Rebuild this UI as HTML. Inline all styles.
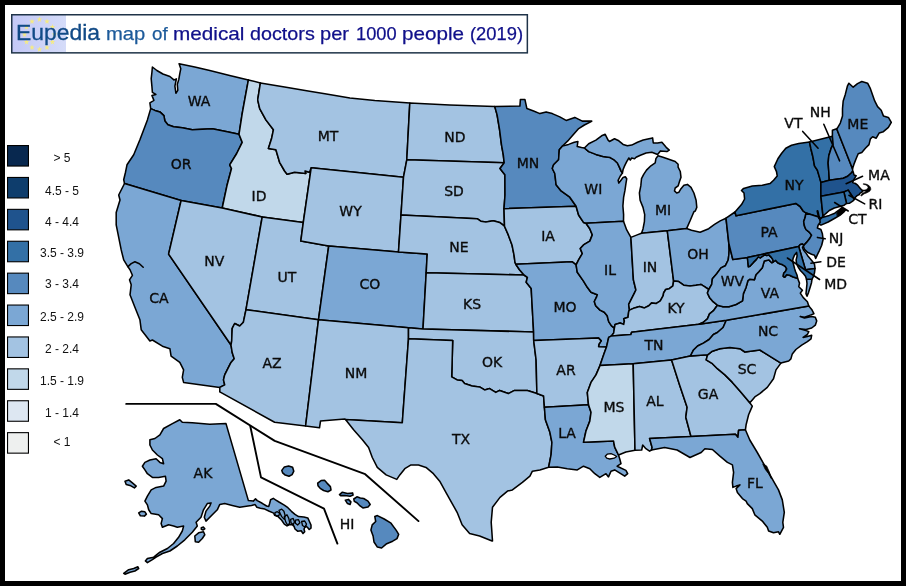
<!DOCTYPE html>
<html lang="en"><head><meta charset="utf-8"><title>Eupedia map of medical doctors per 1000 people (2019)</title>
<style>
html,body{margin:0;padding:0;background:#000}
#wrap{position:relative;width:906px;height:586px;background:#000;overflow:hidden}
#paper{position:absolute;left:5px;top:5px;width:896px;height:576px;background:#fff}
#map{position:absolute;left:0;top:0}
.st path{stroke:#000;stroke-width:1.55;stroke-linejoin:round;stroke-linecap:round}
.lb{font-family:"DejaVu Sans","Liberation Sans",sans-serif;font-size:14px;fill:#0b0b0b;stroke:#0b0b0b;stroke-width:.35px;text-anchor:middle}
#title{position:absolute;left:12px;top:15px;width:515px;height:38px}
.tw{position:absolute;white-space:nowrap;font-family:"Liberation Sans",sans-serif;line-height:1;transform-origin:0 0}
.lt{position:absolute;left:32px;width:60px;text-align:center;font-family:"Liberation Sans",sans-serif;font-size:12px;color:#111;line-height:14px}
</style></head><body><div id="wrap"><div id="paper"></div>

<svg id="map" width="906" height="586" viewBox="0 0 906 586">
<defs><linearGradient id="fg" x1="0" x2="1" y1="0" y2="0"><stop offset="0" stop-color="#c3c8f6"/><stop offset="1" stop-color="#d5dcf9"/></linearGradient></defs>
<rect x="12" y="15" width="54" height="37.5" fill="url(#fg)"/>
<polygon fill="#f4ea86" points="39.50,16.50 40.21,18.53 42.35,18.57 40.64,19.87 41.26,21.93 39.50,20.70 37.74,21.93 38.36,19.87 36.65,18.57 38.79,18.53"/>
<polygon fill="#f4ea86" points="47.00,18.51 47.71,20.54 49.85,20.58 48.14,21.88 48.76,23.94 47.00,22.71 45.24,23.94 45.86,21.88 44.15,20.58 46.29,20.54"/>
<polygon fill="#f4ea86" points="52.49,24.00 53.20,26.03 55.34,26.07 53.63,27.37 54.25,29.43 52.49,28.20 50.73,29.43 51.35,27.37 49.64,26.07 51.79,26.03"/>
<polygon fill="#f4ea86" points="54.50,31.50 55.21,33.53 57.35,33.57 55.64,34.87 56.26,36.93 54.50,35.70 52.74,36.93 53.36,34.87 51.65,33.57 53.79,33.53"/>
<polygon fill="#f4ea86" points="52.49,39.00 53.20,41.03 55.34,41.07 53.63,42.37 54.25,44.43 52.49,43.20 50.73,44.43 51.35,42.37 49.64,41.07 51.79,41.03"/>
<polygon fill="#f4ea86" points="47.00,44.49 47.71,46.52 49.85,46.56 48.14,47.86 48.76,49.92 47.00,48.69 45.24,49.92 45.86,47.86 44.15,46.56 46.29,46.52"/>
<polygon fill="#f4ea86" points="39.50,46.50 40.21,48.53 42.35,48.57 40.64,49.87 41.26,51.93 39.50,50.70 37.74,51.93 38.36,49.87 36.65,48.57 38.79,48.53"/>
<polygon fill="#f4ea86" points="32.00,44.49 32.71,46.52 34.85,46.56 33.14,47.86 33.76,49.92 32.00,48.69 30.24,49.92 30.86,47.86 29.15,46.56 31.29,46.52"/>
<polygon fill="#f4ea86" points="26.51,39.00 27.21,41.03 29.36,41.07 27.65,42.37 28.27,44.43 26.51,43.20 24.75,44.43 25.37,42.37 23.66,41.07 25.80,41.03"/>
<polygon fill="#f4ea86" points="24.50,31.50 25.21,33.53 27.35,33.57 25.64,34.87 26.26,36.93 24.50,35.70 22.74,36.93 23.36,34.87 21.65,33.57 23.79,33.53"/>
<polygon fill="#f4ea86" points="26.51,24.00 27.21,26.03 29.36,26.07 27.65,27.37 28.27,29.43 26.51,28.20 24.75,29.43 25.37,27.37 23.66,26.07 25.80,26.03"/>
<polygon fill="#f4ea86" points="32.00,18.51 32.71,20.54 34.85,20.58 33.14,21.88 33.76,23.94 32.00,22.71 30.24,23.94 30.86,21.88 29.15,20.58 31.29,20.54"/>
<rect x="11.75" y="14.75" width="515.6" height="38.1" fill="none" stroke="#1f3348" stroke-width="1.5"/>
<g class="st">
<path fill="#7ba7d4" d="M179.1 63.7 L194.8 67.0 L209.8 70.5 L229.7 75.5 L248.4 79.9 L245.4 96.2 L242.2 113.6 L239.0 134.3 L227.2 131.8 L212.3 128.8 L202.3 129.3 L192.3 129.8 L182.3 127.8 L173.6 126.8 L167.9 124.8 L164.9 121.1 L163.9 115.6 L159.9 111.9 L154.9 110.4 L150.7 108.6 L149.9 102.9 L153.9 100.4 L151.9 95.4 L155.9 94.4 L152.4 92.4 L151.9 86.2 L151.2 78.7 L151.9 72.5 L152.4 67.0 L156.9 70.5 L162.9 74.0 L169.9 76.5 L173.9 79.9 L176.4 78.9 L174.9 86.2 L175.9 93.2 L177.8 90.4 L177.3 84.4 L178.8 79.4 L179.8 73.7 L180.8 68.7 Z"/>
<path fill="#5689be" d="M150.7 108.6 L154.9 110.4 L159.9 111.9 L163.9 115.6 L164.9 121.1 L167.9 124.8 L173.6 126.8 L182.3 127.8 L192.3 129.8 L202.3 129.3 L212.3 128.8 L227.2 131.8 L239.0 134.3 L242.2 142.3 L236.7 153.5 L229.7 164.8 L231.5 168.5 L227.2 184.7 L222.2 208.0 L181.1 200.5 L124.5 183.5 L123.7 179.7 L125.5 172.2 L127.0 164.8 L133.7 154.8 L139.9 139.8 L147.4 119.9 Z"/>
<path fill="#7ba7d4" d="M124.5 183.5 L181.1 200.5 L168.6 254.1 L231.0 345.0 L232.2 352.5 L234.2 358.7 L231.0 362.4 L227.2 369.9 L224.7 374.9 L223.5 379.9 L224.7 384.9 L219.8 387.4 L183.6 382.4 L182.3 377.4 L183.6 369.9 L179.8 362.4 L171.1 356.2 L169.9 348.7 L162.4 346.2 L152.4 340.0 L149.9 340.9 L141.2 329.7 L139.9 319.7 L134.9 307.2 L130.0 294.8 L131.2 284.8 L129.5 279.8 L132.4 275.3 L130.0 269.8 L127.5 266.1 L123.7 259.9 L121.2 249.9 L118.7 237.4 L116.2 224.9 L116.2 212.5 L120.0 200.0 L118.7 195.0 Z"/>
<path fill="#c1d8ea" d="M248.4 79.9 L260.4 82.9 L257.7 99.9 L259.7 108.6 L265.9 119.9 L273.4 129.8 L271.6 138.6 L268.4 148.5 L275.9 149.8 L279.6 162.3 L284.6 171.0 L287.1 174.2 L294.6 172.2 L305.8 173.5 L305.0 171.0 L309.5 172.2 L311.2 167.7 L303.3 222.4 L262.2 217.0 L222.2 208.0 L227.2 184.7 L231.5 168.5 L229.7 164.8 L236.7 153.5 L242.2 142.3 L239.0 134.3 L242.2 113.6 L245.4 96.2 Z"/>
<path fill="#a3c3e2" d="M181.1 200.5 L222.2 208.0 L262.2 217.0 L246.0 309.7 L243.4 322.2 L239.7 326.0 L234.7 323.5 L232.2 328.4 L231.7 340.9 L231.0 345.0 L168.6 254.1 Z"/>
<path fill="#a3c3e2" d="M262.2 217.0 L303.3 222.4 L300.8 241.1 L328.7 246.1 L318.5 319.7 L246.0 309.7 Z"/>
<path fill="#a3c3e2" d="M246.0 309.7 L318.5 319.7 L305.6 426.0 L274.6 422.3 L219.8 391.9 L219.8 387.4 L224.7 384.9 L223.5 379.9 L224.7 374.9 L227.2 369.9 L231.0 362.4 L234.2 358.7 L232.2 352.5 L231.0 345.0 L231.7 340.9 L232.2 328.4 L234.7 323.5 L239.7 326.0 L243.4 322.2 Z"/>
<path fill="#a3c3e2" d="M260.4 82.9 L284.6 86.9 L309.6 91.2 L324.9 93.7 L349.9 97.9 L374.8 100.6 L409.8 103.1 L406.8 159.8 L403.5 177.2 L311.2 167.7 L309.5 172.2 L305.0 171.0 L305.8 173.5 L294.6 172.2 L287.1 174.2 L284.6 171.0 L279.6 162.3 L275.9 149.8 L268.4 148.5 L271.6 138.6 L273.4 129.8 L265.9 119.9 L259.7 108.6 L257.7 99.9 Z"/>
<path fill="#a3c3e2" d="M311.2 167.7 L403.5 177.2 L401.0 215.0 L398.5 251.9 L328.7 246.1 L300.8 241.1 L303.3 222.4 Z"/>
<path fill="#7ba7d4" d="M328.7 246.1 L398.5 251.9 L427.2 254.1 L426.2 272.8 L423.0 329.0 L408.5 327.7 L318.5 319.7 Z"/>
<path fill="#a3c3e2" d="M318.5 319.7 L408.5 327.7 L408.5 338.7 L402.3 422.8 L345.5 419.5 L344.9 419.1 L320.5 421.1 L319.5 427.8 L305.6 426.0 Z"/>
<path fill="#a3c3e2" d="M409.8 103.1 L449.7 104.9 L494.8 106.6 L497.1 114.9 L499.6 129.8 L501.5 144.8 L503.3 154.8 L504.2 162.8 L406.8 159.8 Z"/>
<path fill="#a3c3e2" d="M406.8 159.8 L504.2 162.8 L500.0 168.5 L502.9 172.2 L504.9 174.7 L505.0 195.0 L504.0 208.7 L504.5 226.2 L499.6 222.4 L493.3 220.7 L485.8 221.9 L480.8 221.2 L477.1 218.7 L401.0 215.0 L403.5 177.2 Z"/>
<path fill="#a3c3e2" d="M401.0 215.0 L477.1 218.7 L480.8 221.2 L485.8 221.9 L493.3 220.7 L499.6 222.4 L504.5 226.2 L508.3 234.9 L512.0 244.9 L514.0 254.9 L515.0 262.3 L515.8 264.3 L519.5 269.8 L524.0 275.0 L426.2 272.8 L427.2 254.1 L398.5 251.9 Z"/>
<path fill="#a3c3e2" d="M426.2 272.8 L524.0 275.0 L527.4 277.3 L526.2 282.3 L531.2 288.5 L533.6 332.0 L423.0 329.0 Z"/>
<path fill="#a3c3e2" d="M408.5 327.7 L423.0 329.0 L533.6 332.0 L533.7 340.5 L536.1 359.9 L536.9 393.6 L527.4 390.4 L514.5 390.4 L508.3 393.6 L499.6 390.4 L495.8 392.4 L489.6 388.6 L484.6 389.9 L479.6 386.9 L472.1 386.1 L464.6 383.6 L462.1 380.4 L457.1 379.9 L451.7 376.9 L452.7 340.5 L408.5 338.7 Z"/>
<path fill="#a3c3e2" d="M408.5 338.7 L452.7 340.5 L451.7 376.9 L457.1 379.9 L462.1 380.4 L464.6 383.6 L472.1 386.1 L479.6 386.9 L484.6 389.9 L489.6 388.6 L495.8 392.4 L499.6 390.4 L508.3 393.6 L514.5 390.4 L527.4 390.4 L536.9 393.6 L543.6 396.1 L544.4 407.3 L545.4 419.8 L549.9 432.3 L551.9 442.3 L551.1 454.7 L548.6 467.3 L539.9 469.9 L532.4 471.2 L529.9 476.2 L522.4 482.4 L512.4 489.9 L507.5 491.1 L500.0 497.4 L492.5 507.3 L491.2 522.3 L492.5 541.0 L492.1 541.0 L479.6 536.0 L469.6 533.5 L462.1 524.8 L457.1 512.3 L452.2 503.6 L445.9 492.4 L439.7 481.2 L433.4 473.7 L426.0 467.4 L418.5 464.9 L411.0 464.9 L404.8 468.7 L399.8 474.9 L396.8 479.4 L386.1 474.9 L377.3 467.4 L372.3 457.5 L368.6 447.5 L362.4 439.8 L353.6 429.8 L345.5 419.5 L402.3 422.8 Z"/>
<path fill="#5689be" d="M494.8 106.6 L519.9 106.1 L520.4 99.4 L524.9 99.4 L526.9 108.6 L533.6 111.1 L539.9 113.6 L546.1 111.9 L552.3 113.6 L559.8 116.9 L566.1 120.4 L574.8 117.4 L582.3 121.1 L591.7 121.1 L591.6 121.4 L584.4 125.0 L578.7 128.6 L574.3 133.6 L568.6 140.1 L562.5 146.0 L559.3 149.8 L558.6 159.8 L553.6 164.8 L552.3 168.5 L554.8 173.5 L556.1 184.7 L561.1 190.9 L569.8 197.2 L576.1 206.2 L504.0 208.7 L505.0 195.0 L504.9 174.7 L502.9 172.2 L500.0 168.5 L504.2 162.8 L503.3 154.8 L501.5 144.8 L499.6 129.8 L497.1 114.9 Z"/>
<path fill="#a3c3e2" d="M504.0 208.7 L576.1 206.2 L578.6 215.0 L583.5 222.4 L586.0 223.2 L589.8 228.7 L592.3 234.9 L589.8 241.1 L583.5 244.9 L580.3 248.6 L582.3 253.6 L578.6 259.9 L576.1 264.8 L572.3 261.8 L515.8 264.3 L515.0 262.3 L514.0 254.9 L512.0 244.9 L508.3 234.9 L504.5 226.2 Z"/>
<path fill="#7ba7d4" d="M515.8 264.3 L572.3 261.8 L576.1 264.8 L577.3 272.3 L583.5 281.1 L587.3 287.3 L591.0 292.3 L597.3 294.8 L596.5 297.2 L594.3 301.5 L595.7 305.8 L600.0 310.1 L604.3 312.2 L607.2 315.8 L608.7 321.6 L611.5 325.9 L614.4 328.0 L613.7 333.0 L611.5 335.9 L608.7 337.4 L606.5 347.1 L598.6 346.7 L598.9 344.2 L601.2 340.9 L598.6 338.1 L533.7 340.5 L533.6 332.0 L531.2 288.5 L526.2 282.3 L527.4 277.3 L524.0 275.0 L519.5 269.8 Z"/>
<path fill="#a3c3e2" d="M533.7 340.5 L598.6 338.1 L601.2 340.9 L598.9 344.2 L598.6 346.7 L606.5 347.1 L604.3 353.1 L602.2 358.9 L600.0 365.6 L596.0 374.9 L591.0 382.4 L587.3 392.4 L588.5 404.8 L544.4 407.3 L543.6 396.1 L536.9 393.6 L536.1 359.9 Z"/>
<path fill="#7ba7d4" d="M588.5 404.8 L591.0 412.3 L589.8 421.1 L586.0 431.0 L583.5 442.3 L613.5 441.0 L614.7 447.2 L618.5 455.0 L619.7 458.7 L621.0 463.7 L617.2 466.2 L625.9 470.4 L627.7 473.7 L624.7 476.2 L614.7 469.9 L611.0 471.2 L608.5 476.9 L606.0 473.7 L599.8 477.4 L594.8 473.7 L589.8 468.7 L583.5 466.2 L577.3 469.9 L567.3 468.7 L557.3 466.9 L548.6 467.3 L551.1 454.7 L551.9 442.3 L549.9 432.3 L545.4 419.8 L544.4 407.3 Z"/>
<path fill="#7ba7d4" d="M562.5 146.0 L568.6 144.4 L574.3 142.2 L577.9 141.5 L577.2 146.5 L581.5 147.6 L584.4 148.0 L588.7 151.6 L595.9 154.4 L603.0 156.6 L610.2 157.6 L614.5 160.2 L617.4 163.0 L619.5 167.4 L621.0 170.9 L622.4 173.1 L620.3 176.0 L618.1 180.3 L618.8 183.1 L621.0 180.3 L623.1 177.4 L625.3 176.7 L626.7 178.8 L626.0 183.1 L625.0 190.2 L623.6 197.4 L622.9 206.0 L623.6 214.6 L623.5 221.2 L586.0 223.2 L583.5 222.4 L578.6 215.0 L576.1 206.2 L569.8 197.2 L561.1 190.9 L556.1 184.7 L554.8 173.5 L552.3 168.5 L553.6 164.8 L558.6 159.8 L559.3 149.8 Z"/>
<path fill="#7ba7d4" d="M586.0 223.2 L623.5 221.2 L626.7 229.9 L630.9 237.4 L633.4 279.8 L635.9 290.0 L634.5 292.9 L631.6 298.6 L628.7 304.3 L629.5 310.1 L628.7 311.5 L628.0 317.3 L623.7 318.7 L624.4 320.9 L623.7 324.4 L620.1 323.0 L615.1 324.4 L614.4 328.0 L611.5 325.9 L608.7 321.6 L607.2 315.8 L604.3 312.2 L600.0 310.1 L595.7 305.8 L594.3 301.5 L596.5 297.2 L597.3 294.8 L591.0 292.3 L587.3 287.3 L583.5 281.1 L577.3 272.3 L576.1 264.8 L578.6 259.9 L582.3 253.6 L580.3 248.6 L583.5 244.9 L589.8 241.1 L592.3 234.9 L589.8 228.7 Z"/>
<path fill="#7ba7d4" d="M584.4 148.0 L588.7 143.7 L595.9 140.1 L601.6 135.8 L605.2 134.3 L608.1 140.1 L609.5 141.5 L614.5 138.7 L618.8 140.8 L623.1 144.4 L627.4 145.8 L631.7 145.1 L637.5 142.2 L643.2 140.1 L649.0 138.7 L652.6 137.9 L653.3 143.0 L657.6 143.0 L661.9 142.2 L666.2 147.3 L669.3 150.1 L666.9 151.6 L660.4 150.9 L657.6 154.4 L651.8 152.3 L646.1 153.0 L640.4 155.2 L636.1 157.3 L634.6 158.7 L631.7 158.0 L630.3 160.2 L628.9 158.0 L626.7 161.6 L624.6 165.9 L623.1 169.5 L622.4 173.1 L621.0 170.9 L619.5 167.4 L617.4 163.0 L614.5 160.2 L610.2 157.6 L603.0 156.6 L595.9 154.4 L588.7 151.6 Z"/>
<path fill="#7ba7d4" d="M658.0 155.7 L655.9 158.6 L655.2 162.9 L650.9 165.8 L646.5 170.1 L643.7 174.4 L641.5 178.7 L640.8 185.9 L639.4 193.0 L640.1 200.2 L643.0 207.4 L644.7 214.6 L644.4 221.7 L643.0 228.9 L641.5 233.2 L667.3 230.8 L686.6 228.6 L690.3 220.3 L693.9 211.7 L695.3 211.0 L696.8 207.4 L696.1 200.2 L693.9 193.0 L691.0 187.3 L687.4 184.4 L683.9 185.2 L681.0 188.7 L678.8 192.3 L676.7 193.0 L674.5 190.9 L675.2 188.0 L678.1 185.9 L679.5 181.6 L681.0 177.3 L680.3 171.5 L678.1 167.2 L678.1 164.3 L675.2 161.5 L668.8 159.3 L663.0 157.2 Z"/>
<path fill="#a3c3e2" d="M630.9 237.4 L637.2 234.9 L641.5 233.2 L667.3 230.8 L673.6 280.9 L672.9 285.9 L669.3 288.7 L665.7 289.5 L663.6 293.0 L663.2 295.7 L660.3 300.8 L656.0 303.6 L651.7 302.9 L648.8 305.8 L644.5 307.9 L639.5 306.5 L634.5 307.9 L629.5 310.1 L628.7 304.3 L631.6 298.6 L634.5 292.9 L635.9 290.0 L633.4 279.8 Z"/>
<path fill="#7ba7d4" d="M667.3 230.8 L686.6 228.6 L691.5 230.2 L700.1 232.3 L708.7 228.7 L714.5 224.4 L720.2 220.9 L726.0 218.2 L728.8 243.1 L729.2 250.0 L728.9 254.3 L728.2 260.0 L725.3 265.8 L721.0 267.9 L716.7 273.7 L712.4 278.7 L711.7 284.4 L708.8 289.5 L704.5 286.6 L700.9 284.4 L695.9 285.2 L690.1 285.9 L683.7 285.2 L678.7 281.6 L673.6 280.9 Z"/>
<path fill="#a3c3e2" d="M614.4 328.0 L615.1 324.4 L620.1 323.0 L623.7 324.4 L624.4 320.9 L623.7 318.7 L628.0 317.3 L628.7 311.5 L629.5 310.1 L634.5 307.9 L639.5 306.5 L644.5 307.9 L648.8 305.8 L651.7 302.9 L656.0 303.6 L660.3 300.8 L663.2 295.7 L663.6 293.0 L665.7 289.5 L669.3 288.7 L672.9 285.9 L673.6 280.9 L678.7 281.6 L683.7 285.2 L690.1 285.9 L695.9 285.2 L700.9 284.4 L704.5 286.6 L708.8 289.5 L707.4 293.0 L709.5 297.4 L713.1 301.7 L717.4 305.2 L713.8 310.3 L709.5 313.9 L707.4 318.9 L703.0 322.5 L699.0 324.3 L631.6 332.3 L630.9 334.5 L611.5 335.9 L613.7 333.0 Z"/>
<path fill="#7ba7d4" d="M600.0 365.6 L633.2 363.8 L671.6 359.9 L690.4 356.0 L693.3 350.3 L697.6 346.0 L703.4 343.1 L709.1 339.5 L713.4 334.5 L717.4 332.5 L723.1 327.5 L726.3 320.3 L699.0 324.3 L631.6 332.3 L630.9 334.5 L611.5 335.9 L608.7 337.4 L606.5 347.1 L604.3 353.1 L602.2 358.9 Z"/>
<path fill="#c1d8ea" d="M600.0 365.6 L633.2 363.8 L635.0 450.2 L625.9 452.0 L618.5 455.0 L614.7 447.2 L613.5 441.0 L583.5 442.3 L586.0 431.0 L589.8 421.1 L591.0 412.3 L588.5 404.8 L587.3 392.4 L591.0 382.4 L596.0 374.9 Z"/>
<path fill="#a3c3e2" d="M633.2 363.8 L671.6 359.9 L679.6 384.9 L687.1 407.3 L685.8 417.3 L691.0 436.5 L649.6 438.5 L652.1 447.5 L651.5 450.0 L649.6 451.2 L645.9 448.7 L642.7 445.0 L641.7 450.0 L635.0 450.2 Z"/>
<path fill="#a3c3e2" d="M671.6 359.9 L690.4 356.0 L707.6 354.8 L706.2 359.9 L712.4 363.7 L717.4 368.7 L724.9 374.9 L732.4 382.4 L739.9 391.1 L745.4 397.4 L749.8 402.8 L752.3 406.1 L748.6 414.8 L746.1 424.8 L745.4 429.8 L738.6 430.3 L737.9 437.3 L735.4 434.3 L691.0 436.5 L685.8 417.3 L687.1 407.3 L679.6 384.9 Z"/>
<path fill="#7ba7d4" d="M745.4 429.8 L749.8 440.0 L757.3 452.5 L763.6 463.7 L768.6 472.4 L773.5 481.2 L778.5 489.9 L782.3 499.9 L784.3 512.3 L782.8 522.3 L783.5 527.3 L779.8 534.3 L778.5 531.8 L773.5 532.8 L768.6 531.0 L767.3 527.3 L762.3 521.1 L754.8 514.8 L752.3 508.6 L747.3 503.6 L746.1 501.1 L742.4 498.6 L737.4 492.4 L736.1 488.6 L739.9 484.9 L736.1 486.1 L732.9 487.4 L732.4 482.4 L733.6 472.4 L732.4 464.9 L727.4 462.4 L719.9 456.2 L712.4 449.5 L704.9 448.7 L701.2 452.5 L690.0 457.5 L677.1 450.0 L664.6 447.5 L651.5 450.0 L652.1 447.5 L649.6 438.5 L691.0 436.5 L735.4 434.3 L737.9 437.3 L738.6 430.3 Z"/>
<path fill="#a3c3e2" d="M707.6 354.8 L712.4 351.2 L719.9 348.7 L729.9 347.5 L739.9 348.7 L744.9 352.0 L759.8 350.0 L780.9 363.1 L776.0 369.9 L773.5 378.7 L767.3 387.4 L759.8 393.6 L754.8 396.9 L752.3 399.9 L749.8 402.8 L745.4 397.4 L739.9 391.1 L732.4 382.4 L724.9 374.9 L717.4 368.7 L712.4 363.7 L706.2 359.9 Z"/>
<path fill="#7ba7d4" d="M726.3 320.3 L808.8 306.1 L811.7 309.4 L813.9 313.7 L810.3 315.1 L804.5 317.3 L800.2 316.5 L804.5 318.0 L811.7 316.5 L815.3 317.3 L816.7 320.9 L815.3 325.2 L811.7 328.0 L806.0 329.5 L799.5 328.7 L806.0 330.5 L808.8 331.6 L807.4 334.5 L803.1 337.4 L807.4 336.6 L811.7 335.2 L811.0 338.8 L807.4 341.7 L801.7 345.2 L795.9 349.5 L792.3 353.9 L790.9 358.9 L788.7 361.0 L780.9 363.1 L759.8 350.0 L744.9 352.0 L739.9 348.7 L729.9 347.5 L719.9 348.7 L712.4 351.2 L707.6 354.8 L690.4 356.0 L693.3 350.3 L697.6 346.0 L703.4 343.1 L709.1 339.5 L713.4 334.5 L717.4 332.5 L723.1 327.5 Z"/>
<path fill="#7ba7d4" d="M773.2 261.9 L775.7 260.4 L777.7 262.8 L779.7 263.8 L782.7 264.8 L785.2 266.3 L786.7 268.8 L785.2 271.8 L783.7 273.3 L783.2 276.3 L784.7 277.3 L786.7 274.8 L789.6 275.3 L792.6 276.8 L795.6 277.7 L797.6 278.2 L799.5 283.1 L798.8 286.7 L802.4 290.3 L800.3 293.1 L803.1 297.4 L807.4 301.7 L808.8 306.1 L726.3 320.3 L699.0 324.3 L703.0 322.5 L707.4 318.9 L709.5 313.9 L713.8 310.3 L717.4 305.2 L723.1 306.7 L728.9 306.7 L736.1 304.5 L742.5 300.9 L743.4 293.6 L745.9 287.7 L747.9 280.7 L749.9 279.2 L754.4 279.7 L755.9 274.8 L758.8 271.8 L762.3 267.8 L764.3 260.9 L768.8 259.9 L771.8 262.8 Z"/>
<path fill="#7ba7d4" d="M806.5 279.2 L812.0 279.2 L811.5 282.7 L810.0 287.7 L808.5 292.6 L807.0 296.1 L806.0 293.6 L806.5 288.7 L807.0 283.7 Z"/>
<path fill="#7ba7d4" d="M728.8 243.1 L732.8 259.5 L747.4 257.5 L748.4 266.8 L749.9 266.3 L753.4 262.4 L756.4 259.4 L758.3 256.9 L760.3 257.9 L762.3 256.4 L764.8 254.9 L766.8 255.4 L768.8 254.9 L771.3 257.4 L772.7 259.4 L773.2 261.9 L771.8 262.8 L768.8 259.9 L764.3 260.9 L762.3 267.8 L758.8 271.8 L755.9 274.8 L754.4 279.7 L749.9 279.2 L747.9 280.7 L745.9 287.7 L743.4 293.6 L742.5 300.9 L736.1 304.5 L728.9 306.7 L723.1 306.7 L717.4 305.2 L713.1 301.7 L709.5 297.4 L707.4 293.0 L708.8 289.5 L711.7 284.4 L712.4 278.7 L716.7 273.7 L721.0 267.9 L725.3 265.8 L728.2 260.0 L728.9 254.3 L729.2 250.0 Z"/>
<path fill="#5689be" d="M726.0 218.2 L735.0 212.0 L736.0 215.8 L795.8 203.4 L800.1 206.5 L803.0 210.8 L805.9 213.0 L805.2 217.3 L803.7 221.6 L804.4 225.9 L805.9 229.5 L809.5 232.4 L811.6 235.2 L809.5 238.8 L806.6 242.4 L803.7 245.5 L802.5 244.0 L800.3 244.6 L798.7 246.5 L747.4 257.5 L732.8 259.5 L728.8 243.1 Z"/>
<path fill="#3370a6" d="M735.0 212.0 L741.7 204.3 L744.6 199.0 L744.0 193.0 L741.5 190.5 L743.6 188.4 L752.3 185.9 L762.3 185.2 L770.0 183.6 L773.6 180.2 L777.2 175.9 L776.5 171.6 L774.3 166.6 L777.9 158.7 L781.5 153.5 L785.8 148.2 L791.5 145.3 L798.7 143.6 L809.5 142.0 L810.9 148.7 L813.0 157.3 L814.5 165.9 L817.4 170.2 L819.5 177.4 L820.9 182.4 L820.9 196.2 L823.0 216.2 L821.5 218.6 L819.5 217.3 L805.9 213.0 L803.0 210.8 L800.1 206.5 L795.8 203.4 L736.0 215.8 Z"/>
<path fill="#3370a6" d="M822.1 217.4 L829.3 215.4 L834.8 213.2 L839.2 209.9 L841.5 208.0 L845.3 210.2 L844.2 211.6 L839.8 215.4 L834.8 218.2 L828.2 222.0 L821.0 225.1 L818.3 223.7 L819.4 219.8 Z"/>
<path fill="#3370a6" d="M809.5 142.0 L832.4 136.3 L833.1 144.3 L831.0 148.7 L828.8 155.8 L828.1 163.0 L828.8 171.6 L829.3 180.3 L820.9 182.4 L819.5 177.4 L817.4 170.2 L814.5 165.9 L813.0 157.3 L810.9 148.7 Z"/>
<path fill="#5689be" d="M832.4 136.3 L832.4 130.3 L836.7 128.8 L852.5 168.7 L852.7 171.3 L851.0 173.2 L847.7 176.3 L843.3 178.2 L829.3 180.3 L828.8 171.6 L828.1 163.0 L828.8 155.8 L831.0 148.7 L833.1 144.3 Z"/>
<path fill="#5689be" d="M836.7 128.8 L837.4 128.1 L840.3 123.1 L842.5 115.9 L842.5 108.7 L843.2 100.9 L845.3 94.4 L847.5 85.8 L848.9 83.2 L853.2 87.2 L857.5 83.6 L861.8 81.5 L867.6 83.2 L870.4 88.7 L874.7 100.9 L877.6 106.6 L881.2 110.2 L883.4 115.9 L888.4 117.4 L891.3 122.4 L888.4 127.4 L883.4 131.7 L879.1 133.1 L876.2 138.2 L872.6 136.7 L870.4 138.9 L869.0 144.6 L865.4 148.2 L861.8 152.5 L858.2 153.7 L856.1 158.7 L853.9 164.4 L852.5 168.7 Z"/>
<path fill="#1f538d" d="M820.9 182.4 L829.3 180.3 L843.3 178.2 L847.7 176.3 L851.0 173.2 L852.7 171.3 L853.2 171.9 L854.0 174.9 L856.2 175.7 L854.9 177.9 L853.2 180.7 L852.7 182.6 L855.4 183.5 L857.6 185.1 L859.3 187.3 L860.9 189.2 L862.6 190.6 L861.8 192.3 L860.1 193.1 L859.3 194.5 L857.1 195.6 L855.4 197.2 L854.3 199.5 L853.2 197.8 L851.0 194.5 L849.6 192.3 L848.2 190.1 L843.9 192.0 L820.9 196.2 Z"/>
<path fill="#3370a6" d="M843.9 192.0 L848.2 190.1 L849.6 192.3 L851.0 194.5 L853.2 197.8 L854.3 199.5 L852.7 201.1 L849.3 203.3 L846.5 203.4 Z"/>
<path fill="#3370a6" d="M820.9 196.2 L843.9 192.0 L846.5 203.4 L844.2 205.2 L839.8 206.6 L834.3 208.0 L829.3 210.5 L825.5 213.8 L823.0 216.2 Z"/>
<path fill="#5689be" d="M805.9 213.0 L819.5 217.3 L820.2 222.3 L818.1 225.2 L817.4 228.0 L820.9 229.5 L822.4 233.8 L823.1 239.5 L821.7 245.3 L819.5 250.3 L817.4 254.6 L815.7 258.5 L814.5 255.2 L811.5 254.2 L807.5 252.2 L804.5 249.2 L803.3 246.4 L803.7 245.5 L806.6 242.4 L809.5 238.8 L811.6 235.2 L809.5 232.4 L805.9 229.5 L804.4 225.9 L803.7 221.6 L805.2 217.3 Z"/>
<path fill="#7ba7d4" d="M798.7 246.5 L800.3 244.6 L802.5 244.0 L803.7 245.5 L802.5 247.5 L803.5 249.9 L805.5 252.4 L807.5 255.4 L810.0 258.4 L812.5 261.4 L814.5 264.3 L815.0 268.3 L815.0 268.6 L805.5 269.8 Z"/>
<path fill="#3370a6" d="M747.4 257.5 L798.7 246.5 L805.5 269.8 L815.0 268.6 L814.5 272.8 L813.5 276.3 L812.0 279.2 L806.5 279.2 L805.5 276.3 L803.5 273.8 L800.6 270.8 L798.6 267.8 L796.6 263.8 L796.1 259.9 L797.1 255.9 L796.6 252.4 L794.6 254.9 L793.1 258.4 L792.6 261.4 L793.6 264.8 L794.6 268.8 L795.6 271.8 L797.1 275.3 L797.6 278.2 L795.6 277.7 L792.6 276.8 L789.6 275.3 L786.7 274.8 L784.7 277.3 L783.2 276.3 L783.7 273.3 L785.2 271.8 L786.7 268.8 L785.2 266.3 L782.7 264.8 L779.7 263.8 L777.7 262.8 L775.7 260.4 L773.2 261.9 L772.7 259.4 L771.3 257.4 L768.8 254.9 L766.8 255.4 L764.8 254.9 L762.3 256.4 L760.3 257.9 L758.3 256.9 L756.4 259.4 L753.4 262.4 L749.9 266.3 L748.4 266.8 Z"/>
<path fill="#7ba7d4" d="M226.0 423.6 L209.8 424.3 L192.3 422.8 L182.3 422.3 L179.8 419.8 L172.4 423.6 L163.6 428.5 L159.9 434.8 L154.9 438.5 L149.9 439.8 L149.9 445.0 L152.4 450.0 L157.4 455.0 L162.4 458.7 L163.6 463.7 L159.9 462.4 L156.1 458.7 L149.9 460.0 L144.9 462.4 L142.4 466.2 L144.9 469.9 L147.4 473.7 L152.4 477.4 L158.6 477.4 L165.4 476.2 L166.1 481.2 L163.6 486.1 L156.1 487.4 L151.2 489.9 L147.4 496.1 L144.9 501.1 L147.4 504.9 L148.7 509.8 L151.2 513.6 L158.6 514.8 L162.4 518.6 L161.1 523.6 L162.4 527.3 L168.6 524.8 L173.6 526.1 L177.3 527.3 L183.6 526.1 L182.3 531.0 L178.6 537.3 L173.6 543.5 L167.4 548.5 L159.9 552.2 L153.7 557.2 L147.4 558.5 L145.4 561.0 L147.4 562.7 L152.4 559.7 L156.1 557.2 L162.4 553.5 L169.9 551.0 L177.3 546.0 L184.8 539.8 L192.3 532.3 L197.3 526.1 L196.1 522.3 L201.0 517.3 L203.5 509.8 L207.3 503.6 L211.0 502.9 L209.8 506.1 L206.0 511.1 L204.3 517.3 L206.0 521.1 L212.3 514.8 L217.3 509.8 L219.8 504.4 L224.7 503.6 L232.2 505.4 L239.7 507.3 L248.0 506.0 L251.5 505.5 L255.1 504.6 L256.9 507.3 L260.4 508.2 L264.8 509.1 L269.3 511.3 L273.7 513.1 L274.6 515.3 L278.1 516.6 L281.7 520.2 L284.3 524.1 L287.0 525.9 L289.7 524.6 L292.3 524.6 L294.1 526.4 L295.0 529.0 L297.6 531.2 L301.2 530.8 L303.0 533.5 L304.7 531.7 L304.0 529.0 L305.6 525.9 L307.4 527.3 L309.2 529.5 L311.0 528.1 L311.0 525.0 L309.2 521.0 L307.8 517.9 L303.9 517.1 L298.5 516.6 L295.0 514.4 L291.4 511.3 L287.9 507.7 L284.3 505.1 L279.0 502.0 L275.5 499.8 L273.3 498.4 L270.6 499.8 L269.7 503.3 L268.8 506.4 L266.6 506.0 L262.2 503.3 L257.3 500.6 L255.5 498.9 L253.3 501.1 L248.4 500.6 Z"/>
<path fill="#7ba7d4" d="M125.0 481.2 L128.7 479.9 L132.4 482.9 L136.2 486.1 L134.4 487.9 L130.0 485.4 L126.2 484.4 Z"/>
<path fill="#7ba7d4" d="M138.7 512.8 L141.2 511.3 L144.9 511.8 L146.4 514.1 L144.4 516.1 L140.4 515.8 Z"/>
<path fill="#7ba7d4" d="M194.8 536.0 L198.6 532.8 L203.5 531.8 L204.8 534.8 L202.3 538.5 L198.6 542.3 L195.3 541.8 Z"/>
<path fill="#7ba7d4" d="M201.3 527.8 L203.5 527.1 L204.8 528.8 L203.0 530.0 L201.3 529.3 Z"/>
<path fill="#7ba7d4" d="M123.7 573.4 L128.7 569.7 L133.7 568.5 L137.9 566.7 L138.7 568.5 L134.9 571.0 L130.0 572.2 L125.0 574.2 Z"/>
<path fill="#5689be" d="M281.8 470.4 L284.4 466.9 L288.6 466.1 L292.6 467.3 L293.8 471.2 L292.1 474.6 L289.0 476.3 L285.2 475.1 L282.7 472.9 Z"/>
<path fill="#5689be" d="M317.7 483.1 L321.1 480.6 L324.5 480.2 L327.0 483.1 L330.4 486.6 L331.0 490.0 L327.9 491.7 L323.6 490.5 L320.2 488.3 L318.0 485.7 Z"/>
<path fill="#5689be" d="M339.5 494.6 L342.4 492.2 L347.5 493.4 L352.6 492.9 L353.1 495.1 L350.1 496.3 L344.9 495.6 L340.7 495.6 Z"/>
<path fill="#5689be" d="M345.3 500.2 L348.4 499.4 L350.9 501.9 L350.1 504.5 L347.5 503.6 Z"/>
<path fill="#5689be" d="M353.8 499.0 L356.9 496.8 L360.3 498.0 L363.7 498.5 L368.0 501.1 L370.2 504.5 L368.0 507.0 L362.9 507.9 L359.4 505.3 L356.9 502.8 L354.3 501.4 Z"/>
<path fill="#5689be" d="M374.8 516.4 L377.4 515.6 L384.2 519.0 L391.0 523.2 L396.1 530.1 L398.7 534.3 L397.0 538.6 L392.7 541.2 L386.7 543.7 L381.6 548.0 L377.4 547.1 L374.0 542.0 L373.1 536.0 L370.9 530.1 L372.2 524.9 L375.7 521.5 Z"/>
<path fill="none" d="M128.0 266.6 L131.2 263.6 L134.9 261.8 L139.4 263.8 L143.2 267.3"/>
<path fill="#000" d="M863.7 183.7 L865.9 184.0 L868.4 185.1 L870.3 187.0 L870.9 189.2 L869.8 191.2 L867.0 192.8 L864.0 193.9 L861.5 195.9 L860.7 195.6 L862.6 193.1 L865.1 192.3 L865.9 190.9 L863.7 191.2 L862.6 190.9 L862.6 190.1 L865.1 190.0 L867.3 188.9 L868.1 187.3 L867.3 185.8 L865.4 184.8 L863.6 184.4 Z" style="stroke-width:.6"/>
<path fill="#000" d="M837.0 213.2 L840.9 208.8 L845.3 210.2 L840.9 214.3 L837.6 216.0 Z" style="stroke-width:1"/>
<path fill="none" d="M817.5 211.0 L819.1 218.2" style="stroke-width:2.2"/>
<path fill="none" d="M279.0 510.4 L281.7 509.1 L283.9 511.3 L285.2 515.7 L284.3 519.3 L281.7 516.6 L279.9 513.1 Z" style="stroke-width:1.3"/>
<path fill="none" d="M275.0 512.6 L277.3 511.7 L279.5 513.1 L279.0 515.3 L276.8 516.2 L275.0 514.8 Z" style="stroke-width:1.3"/>
<path fill="none" d="M284.3 516.6 L287.0 514.8 L288.8 518.4 L289.7 522.8 L287.9 525.5 L285.7 521.9 Z" style="stroke-width:1.3"/>
<path fill="none" d="M290.6 519.3 L293.2 518.4 L294.5 521.9 L293.2 524.6 L291.0 522.8 Z" style="stroke-width:1.3"/>
<path fill="none" d="M295.4 520.2 L298.5 519.7 L299.9 522.8 L297.6 525.0 L295.4 523.3 Z" style="stroke-width:1.3"/>
<path fill="none" d="M301.6 521.5 L304.7 521.0 L306.5 524.1 L305.2 527.3 L302.5 525.5 Z" style="stroke-width:1.3"/>
<path fill="#fff" d="M605.2 456.2 L607.2 454.2 L611.0 453.7 L614.2 455.0 L616.7 456.5 L614.2 458.2 L609.7 459.0 L606.7 458.2 Z" style="stroke-width:1.3"/>
<path fill="#000" d="M763.1 464.2 L766.6 465.9 L769.3 471.9 L771.5 478.9 L768.6 473.7 L765.3 469.4 Z" style="stroke-width:.8"/>
<path fill="none" d="M126.2 403.9 L215.8 403.9 L274.7 440.9 L365.2 474.2 L418.5 521.1" style="stroke-width:1.9"/>
<path fill="none" d="M250.3 426.2 L261.0 477.4 L324.0 508.6 L337.4 543.6" style="stroke-width:1.9"/>
<path fill="none" d="M802.7 131.4 L818.1 148.2"/>
<path fill="none" d="M823.8 124.2 L839.6 160.9"/>
<path fill="none" d="M862.6 176.2 L846.1 183.8"/>
<path fill="none" d="M864.7 203.9 L848.9 195.3"/>
<path fill="none" d="M848.2 211.0 L834.6 202.5"/>
<path fill="none" d="M817.4 237.4 L825.2 238.8"/>
<path fill="none" d="M810.9 263.2 L820.9 261.8"/>
<path fill="none" d="M787.4 258.0 L819.6 279.5"/>
</g><g>
<text class="lb" x="199" y="106">WA</text>
<text class="lb" x="181" y="169">OR</text>
<text class="lb" x="259" y="201">ID</text>
<text class="lb" x="328" y="141">MT</text>
<text class="lb" x="350.5" y="216">WY</text>
<text class="lb" x="455" y="142">ND</text>
<text class="lb" x="454" y="196">SD</text>
<text class="lb" x="459" y="252">NE</text>
<text class="lb" x="472" y="309">KS</text>
<text class="lb" x="492" y="367">OK</text>
<text class="lb" x="461" y="444">TX</text>
<text class="lb" x="356" y="378">NM</text>
<text class="lb" x="272" y="368">AZ</text>
<text class="lb" x="370" y="289">CO</text>
<text class="lb" x="287" y="282">UT</text>
<text class="lb" x="214.3" y="266">NV</text>
<text class="lb" x="159" y="303">CA</text>
<text class="lb" x="528" y="168">MN</text>
<text class="lb" x="548" y="241">IA</text>
<text class="lb" x="565" y="312">MO</text>
<text class="lb" x="566" y="375">AR</text>
<text class="lb" x="567" y="438">LA</text>
<text class="lb" x="614" y="412">MS</text>
<text class="lb" x="655" y="406">AL</text>
<text class="lb" x="708" y="399">GA</text>
<text class="lb" x="755" y="488">FL</text>
<text class="lb" x="747" y="374">SC</text>
<text class="lb" x="768" y="336">NC</text>
<text class="lb" x="654" y="350">TN</text>
<text class="lb" x="676" y="313">KY</text>
<text class="lb" x="770" y="298">VA</text>
<text class="lb" x="732.5" y="286">WV</text>
<text class="lb" x="698" y="259">OH</text>
<text class="lb" x="650" y="272">IN</text>
<text class="lb" x="610" y="275">IL</text>
<text class="lb" x="593.3" y="194">WI</text>
<text class="lb" x="663" y="215">MI</text>
<text class="lb" x="769" y="237">PA</text>
<text class="lb" x="794" y="190">NY</text>
<text class="lb" x="857.8" y="129">ME</text>
<text class="lb" x="203" y="478">AK</text>
<text class="lb" x="347" y="529">HI</text>
<text class="lb" x="793.4" y="128">VT</text>
<text class="lb" x="820.2" y="117">NH</text>
<text class="lb" x="878.9" y="180">MA</text>
<text class="lb" x="875.5" y="209">RI</text>
<text class="lb" x="857.5" y="224">CT</text>
<text class="lb" x="836" y="243">NJ</text>
<text class="lb" x="836" y="267">DE</text>
<text class="lb" x="835.7" y="289">MD</text>
<rect x="7.55" y="145.55" width="20.9" height="20.5" fill="#08284f" stroke="#000" stroke-width="1.1"/>
<rect x="7.55" y="177.45" width="20.9" height="20.5" fill="#0e3d6c" stroke="#000" stroke-width="1.1"/>
<rect x="7.55" y="209.35" width="20.9" height="20.5" fill="#1f538d" stroke="#000" stroke-width="1.1"/>
<rect x="7.55" y="241.25" width="20.9" height="20.5" fill="#3370a6" stroke="#000" stroke-width="1.1"/>
<rect x="7.55" y="273.15" width="20.9" height="20.5" fill="#5689be" stroke="#000" stroke-width="1.1"/>
<rect x="7.55" y="305.05" width="20.9" height="20.5" fill="#7ba7d4" stroke="#000" stroke-width="1.1"/>
<rect x="7.55" y="336.95" width="20.9" height="20.5" fill="#a3c3e2" stroke="#000" stroke-width="1.1"/>
<rect x="7.55" y="368.85" width="20.9" height="20.5" fill="#c1d8ea" stroke="#000" stroke-width="1.1"/>
<rect x="7.55" y="400.75" width="20.9" height="20.5" fill="#dde7f2" stroke="#000" stroke-width="1.1"/>
<rect x="7.55" y="432.65" width="20.9" height="20.5" fill="#eef0ef" stroke="#000" stroke-width="1.1"/>
</g></svg>
<div id="title">
<span class="tw" style="left:3.87px;top:7.74px;font-size:21.5px;color:#114a86;transform:scaleX(1.0650);-webkit-text-stroke:0.3px #114a86">Eupedia </span>
<span class="tw" style="left:94.43px;top:9.11px;font-size:19px;color:#1c5a9a;transform:scaleX(1.0631);-webkit-text-stroke:0.25px #1c5a9a">map </span>
<span class="tw" style="left:139.50px;top:9.11px;font-size:19px;color:#1c5a9a;transform:scaleX(0.9885);-webkit-text-stroke:0.25px #1c5a9a">of </span>
<span class="tw" style="left:160.82px;top:9.11px;font-size:19px;color:#10108a;transform:scaleX(1.0907);-webkit-text-stroke:0.25px #10108a">medical </span>
<span class="tw" style="left:237.96px;top:9.11px;font-size:19px;color:#10108a;transform:scaleX(1.0395);-webkit-text-stroke:0.25px #10108a">doctors </span>
<span class="tw" style="left:307.95px;top:9.11px;font-size:19px;color:#10108a;transform:scaleX(1.0547);-webkit-text-stroke:0.25px #10108a">per </span>
<span class="tw" style="left:344.06px;top:9.11px;font-size:19px;color:#10108a;transform:scaleX(0.9602);-webkit-text-stroke:0.25px #10108a">1000 </span>
<span class="tw" style="left:389.87px;top:9.11px;font-size:19px;color:#10108a;transform:scaleX(1.0874);-webkit-text-stroke:0.25px #10108a">people </span>
<span class="tw" style="left:457.52px;top:9.11px;font-size:19px;color:#10108a;transform:scaleX(0.9662);-webkit-text-stroke:0.25px #10108a">(2019) </span>
</div>
<div class="lt" style="top:150.5px">&gt; 5</div>
<div class="lt" style="top:183.8px">4.5 - 5</div>
<div class="lt" style="top:214.7px">4 - 4.4</div>
<div class="lt" style="top:246.0px">3.5 - 3.9</div>
<div class="lt" style="top:277.2px">3 - 3.4</div>
<div class="lt" style="top:310.0px">2.5 - 2.9</div>
<div class="lt" style="top:341.9px">2 - 2.4</div>
<div class="lt" style="top:373.8px">1.5 - 1.9</div>
<div class="lt" style="top:405.7px">1 - 1.4</div>
<div class="lt" style="top:435.3px">&lt; 1</div>
</div></body></html>
